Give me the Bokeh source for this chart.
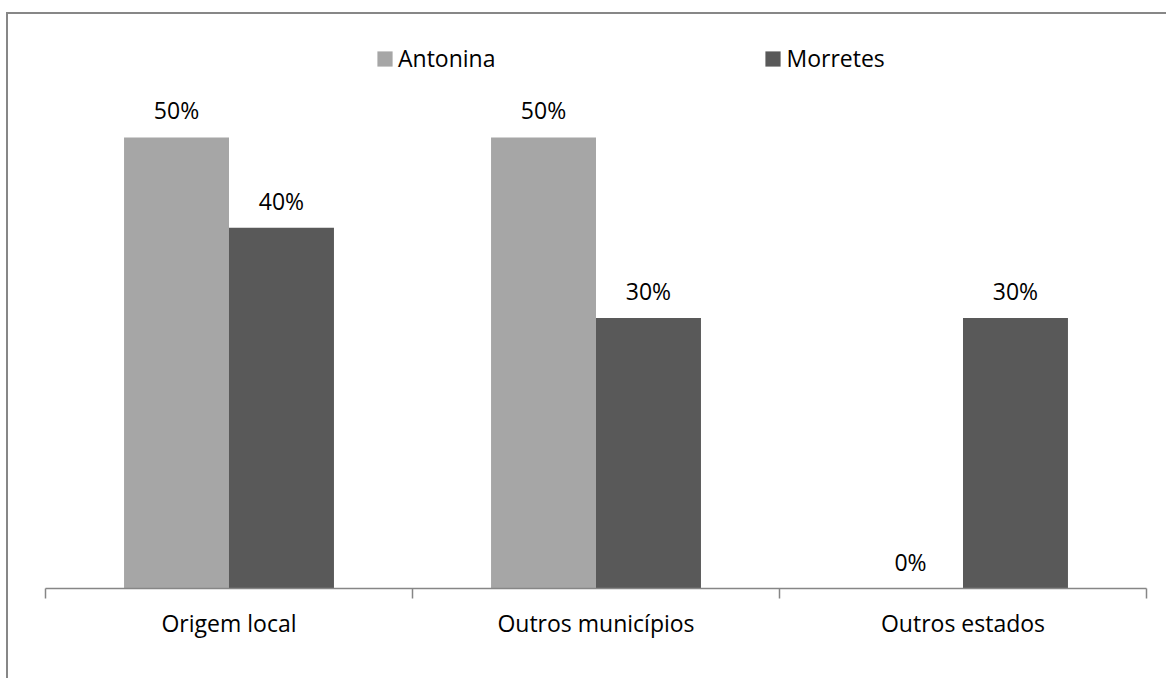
from bokeh.plotting import figure
from bokeh.models import (FactorRange, Range1d, LinearAxis, FixedTicker, ColumnDataSource,
                          LabelSet, Legend, LegendItem)
from bokeh.core.properties import value
from bokeh.transform import dodge
from bokeh.embed import file_html
from bokeh.resources import INLINE

categories = ["Origem local", "Outros municípios", "Outros estados"]
series_names = ["Antonina", "Morretes"]
antonina = [50, 50, 0]
morretes = [40, 30, 30]
colors = ["#A6A6A6", "#595959"]

FONT = "Open Sans"
FS = "23px"

src = ColumnDataSource(dict(
    cat=categories,
    antonina=antonina,
    morretes=morretes,
    antonina_lbl=[f"{v}%" for v in antonina],
    morretes_lbl=[f"{v}%" for v in morretes],
))

p = figure(width=1160, height=666, output_backend="svg", toolbar_location=None,
           x_range=FactorRange(*categories, range_padding=0),
           y_range=Range1d(0, 61.86),
           x_axis_location=None, y_axis_location=None,
           min_border_left=37, min_border_right=22, min_border_top=16, min_border_bottom=92)
p.styles = {"border-left": "2px solid #878787", "border-top": "2px solid #878787",
            "margin-left": "6px", "margin-top": "12px"}
p.outline_line_color = None
p.xgrid.visible = False
p.ygrid.visible = False

off = 0.143
w = 0.286
r1 = p.vbar(x=dodge("cat", -off, range=p.x_range), top="antonina", width=w, source=src,
            fill_color=colors[0], line_color=None)
r2 = p.vbar(x=dodge("cat", off, range=p.x_range), top="morretes", width=w, source=src,
            fill_color=colors[1], line_color=None)

for col, o in (("antonina", -off), ("morretes", off)):
    p.add_layout(LabelSet(x=dodge("cat", o, range=p.x_range), y=col, text=col + "_lbl",
                          source=src, text_align="center", text_baseline="alphabetic",
                          y_offset=18, text_font=value(FONT), text_font_size=value(FS),
                          text_color="#000000"))

ax = LinearAxis(ticker=FixedTicker(ticks=[0.5, 1.5, 2.5], minor_ticks=[0, 1, 2, 3]))
ax.major_label_overrides = {0.5: categories[0], 1.5: categories[1], 2.5: categories[2]}
ax.major_tick_line_color = None
ax.minor_tick_line_color = "#868686"
ax.minor_tick_out = 10
ax.minor_tick_in = 0
ax.axis_line_color = "#868686"
ax.axis_line_width = 1.5
ax.minor_tick_line_width = 1.5
ax.major_label_text_font = FONT
ax.major_label_text_font_size = FS
ax.major_label_text_color = "#000000"
ax.major_label_standoff = 8
p.add_layout(ax, "below")

legend = Legend(items=[LegendItem(label=series_names[0], renderers=[r1]),
                       LegendItem(label=series_names[1], renderers=[r2])],
                orientation="horizontal", location=(330, 514),
                padding=0, margin=0, spacing=268, label_standoff=4,
                glyph_width=19, glyph_height=19,
                label_text_font=FONT, label_text_font_size=FS,
                label_text_color="#000000", border_line_color=None,
                background_fill_alpha=0)
p.add_layout(legend, "center")

open("out.html", "w").write(file_html(p, INLINE))
